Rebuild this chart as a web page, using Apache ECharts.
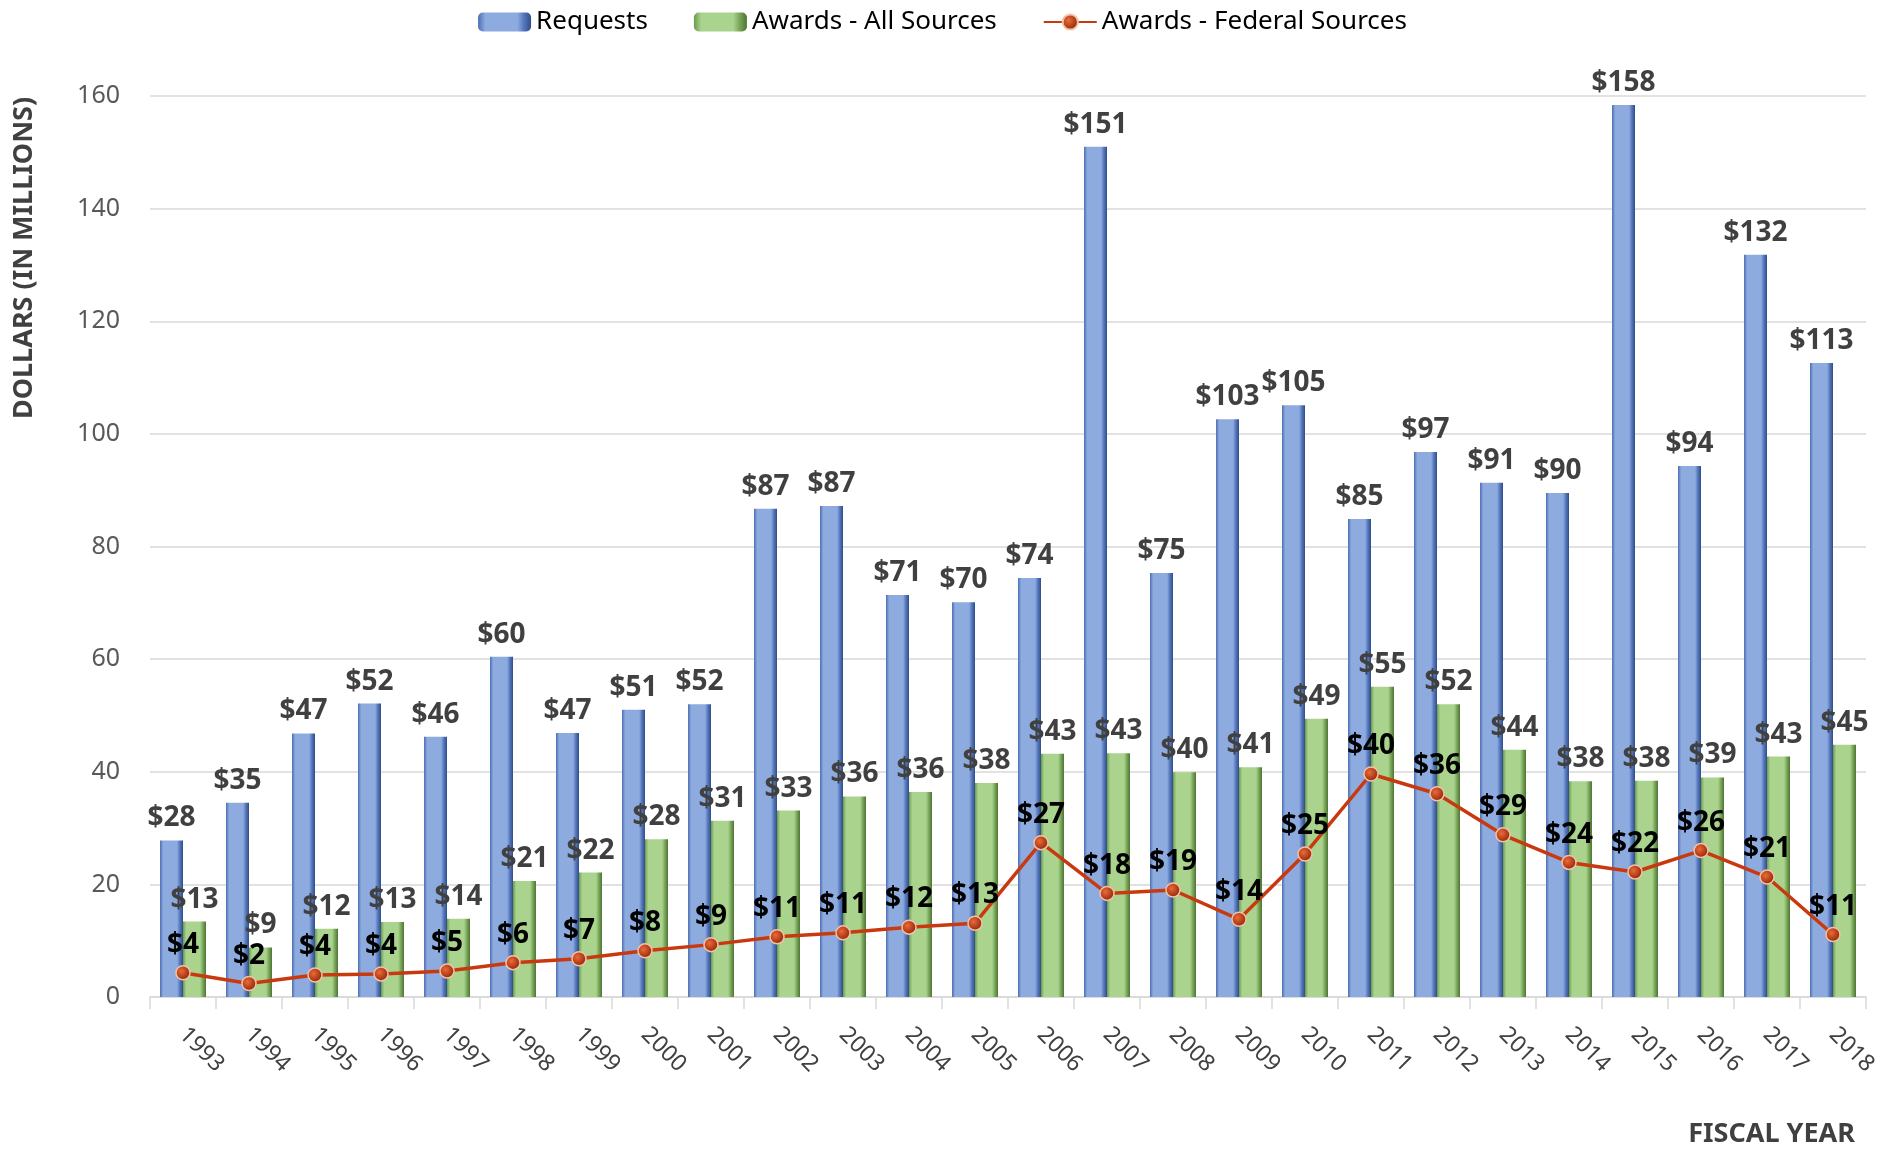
<!DOCTYPE html>
<html>
<head>
<meta charset="utf-8">
<title>Requests and Awards by Fiscal Year</title>
<script src="https://cdn.jsdelivr.net/npm/echarts@6/dist/echarts.min.js"></script>
<style>
  html, body { margin: 0; padding: 0; background: #fff; }
  #chart { width: 1885px; height: 1152px; }
</style>
</head>
<body>
<div id="chart"></div>
<script>
// fiscal years
var years = ['1993', '1994', '1995', '1996', '1997', '1998', '1999', '2000', '2001', '2002', '2003', '2004', '2005',
  '2006', '2007', '2008', '2009', '2010', '2011', '2012', '2013', '2014', '2015', '2016', '2017', '2018'];
// Requests (blue bars)
var requests = [27.8, 34.5, 46.8, 52.1, 46.2, 60.4, 46.9, 51.0, 52.0, 86.7, 87.2, 71.4, 70.1,
  74.4, 151.0, 75.3, 102.6, 105.1, 84.9, 96.8, 91.3, 89.5, 158.4, 94.3, 131.8, 112.6];
// Awards - All Sources (green bars)
var awardsAll = [13.4, 8.8, 12.1, 13.3, 13.9, 20.6, 22.1, 28.0, 31.3, 33.1, 35.6, 36.4, 38.0,
  43.2, 43.3, 39.9, 40.8, 49.4, 55.1, 52.0, 43.9, 38.3, 38.4, 39.0, 42.7, 44.8];
// Awards - Federal Sources (red line)
var awardsFederal = [4.3, 2.4, 3.9, 4.1, 4.6, 6.1, 6.8, 8.2, 9.3, 10.7, 11.4, 12.4, 13.1,
  27.4, 18.4, 19.0, 13.8, 25.4, 39.6, 36.1, 28.8, 23.9, 22.2, 26.0, 21.3, 11.1];
// y axis ticks
var yMin = 0, yMax = 160, yStep = 20;

var FONT = '"Noto Sans", "Open Sans", sans-serif';

function dollar(p) {
  return '$' + Math.round(p.value);
}

// bevelled look of the bars: dark edges, light face
var blueFill = new echarts.graphic.LinearGradient(0, 0, 1, 0, [
  { offset: 0, color: '#4a6fb3' },
  { offset: 0.14, color: '#8eabe0' },
  { offset: 0.74, color: '#8eabe0' },
  { offset: 0.86, color: '#5679bd' },
  { offset: 1, color: '#2f4c86' }
]);
var greenFill = new echarts.graphic.LinearGradient(0, 0, 1, 0, [
  { offset: 0, color: '#6b9b4a' },
  { offset: 0.14, color: '#aad48e' },
  { offset: 0.74, color: '#aad48e' },
  { offset: 0.86, color: '#7ba75b' },
  { offset: 1, color: '#4c7532' }
]);
var dotFill = new echarts.graphic.RadialGradient(0.4, 0.4, 0.6, [
  { offset: 0, color: '#ec6a3a' },
  { offset: 1, color: '#8e2606' }
]);

var myChart = echarts.init(document.getElementById('chart'));
myChart.setOption({
  animation: false,
  textStyle: { fontFamily: FONT },
  legend: {
    top: 4,
    left: 'center',
    itemWidth: 53,
    itemHeight: 19,
    itemGap: 46,
    textStyle: { fontSize: 26, color: '#000', fontFamily: FONT }
  },
  grid: {
    left: 150,
    right: 19,
    top: 96,
    bottom: 155
  },
  xAxis: {
    type: 'category',
    data: years,
    axisLine: { lineStyle: { color: '#d9d9d9', width: 1.5 } },
    axisTick: { show: true, length: 12, interval: 0, lineStyle: { color: '#d9d9d9', width: 1.5 } },
    axisLabel: {
      interval: 0,
      rotate: -45,
      margin: 34,
      fontSize: 23,
      color: '#404040',
      fontFamily: FONT
    }
  },
  yAxis: {
    type: 'value',
    min: yMin,
    max: yMax,
    interval: yStep,
    axisLine: { show: false },
    axisTick: { show: false },
    axisLabel: { fontSize: 25, color: '#595959', margin: 30, fontFamily: FONT },
    splitLine: { lineStyle: { color: '#d9d9d9', width: 1.5 } }
  },
  graphic: [
    {
      type: 'text',
      x: 24,
      y: 258,
      rotation: Math.PI / 2,
      style: {
        text: 'DOLLARS (IN MILLIONS)',
        font: 'bold 27px ' + FONT,
        fill: '#404040',
        textAlign: 'center',
        textVerticalAlign: 'middle'
      }
    },
    {
      type: 'text',
      x: 1855,
      y: 1134,
      style: {
        text: 'FISCAL YEAR',
        font: 'bold 27px ' + FONT,
        fill: '#404040',
        textAlign: 'right',
        textVerticalAlign: 'middle'
      }
    }
  ],
  series: [
    {
      name: 'Requests',
      type: 'bar',
      data: requests,
      barWidth: 23,
      barGap: '0%',
      itemStyle: { color: blueFill },
      label: {
        show: true,
        position: 'top',
        distance: 8,
        formatter: dollar,
        fontSize: 28,
        fontWeight: 'bold',
        color: '#404040',
        fontFamily: FONT
      }
    },
    {
      name: 'Awards - All Sources',
      type: 'bar',
      data: awardsAll,
      barWidth: 23,
      itemStyle: { color: greenFill },
      label: {
        show: true,
        position: 'top',
        distance: 8,
        formatter: dollar,
        fontSize: 28,
        fontWeight: 'bold',
        color: '#404040',
        fontFamily: FONT
      }
    },
    {
      name: 'Awards - Federal Sources',
      type: 'line',
      data: awardsFederal,
      z: 5,
      symbol: 'circle',
      symbolSize: 14,
      lineStyle: { color: '#c9390f', width: 3.5 },
      itemStyle: { color: dotFill, borderColor: '#f2c1a6', borderWidth: 1.5 },
      label: {
        show: true,
        position: 'top',
        distance: 6,
        formatter: dollar,
        fontSize: 28,
        fontWeight: 'bold',
        color: '#000',
        fontFamily: FONT
      }
    }
  ]
});

window.addEventListener('resize', function () {
  myChart.resize();
});
</script>
</body>
</html>
